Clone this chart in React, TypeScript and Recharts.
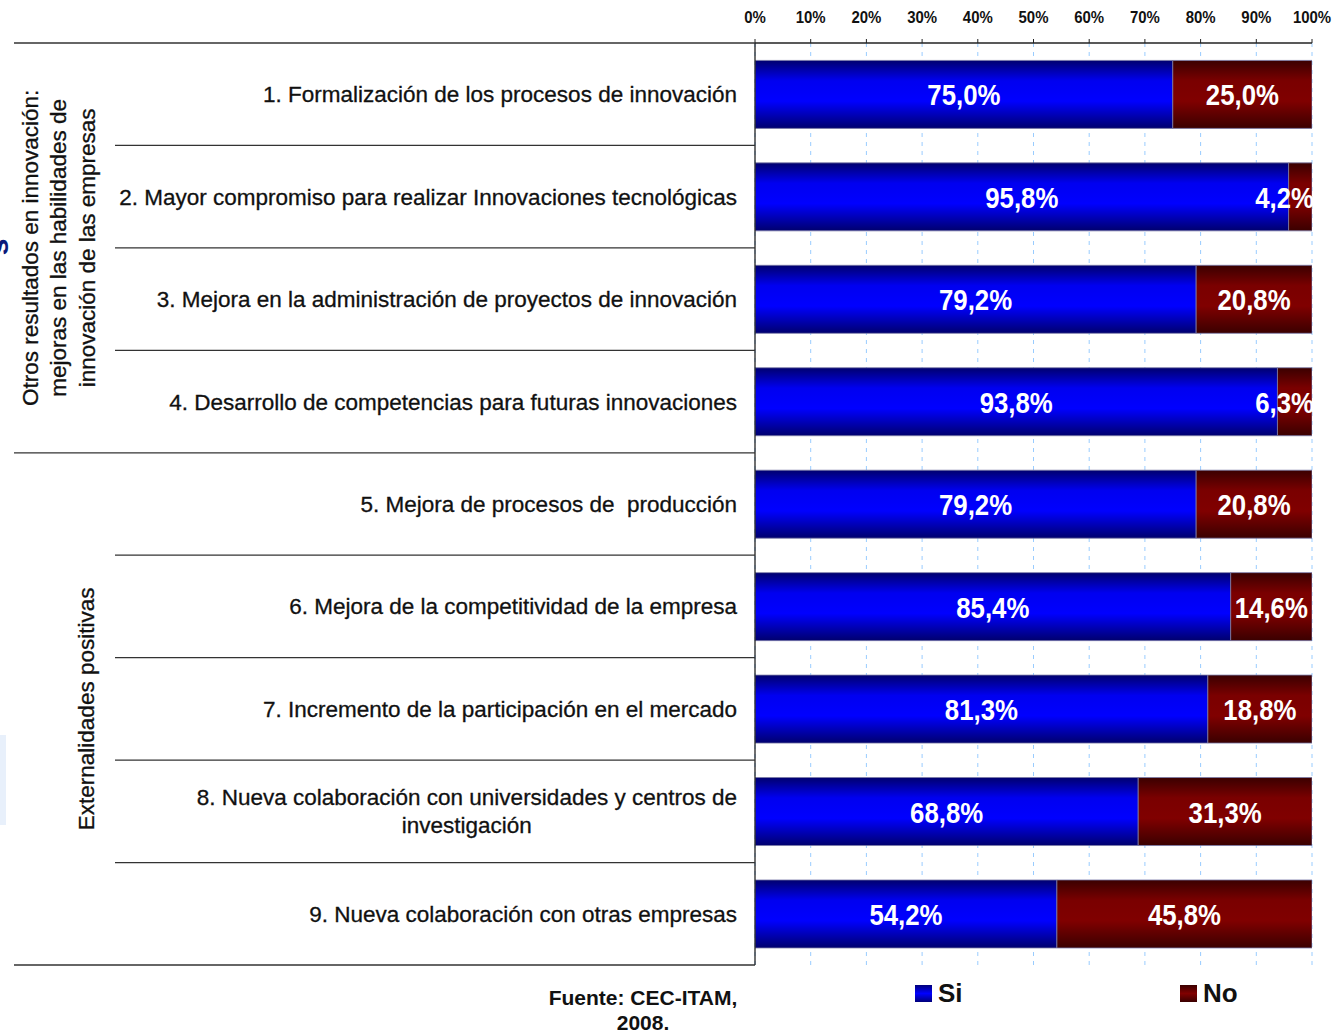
import React from 'react';
import { BarChart, Bar, XAxis, YAxis, CartesianGrid, LabelList } from 'recharts';

const categories: string[][] = [
  ['1. Formalización de los procesos de innovación'],
  ['2. Mayor compromiso para realizar Innovaciones tecnológicas'],
  ['3. Mejora en la administración de proyectos de innovación'],
  ['4. Desarrollo de competencias para futuras innovaciones'],
  ['5. Mejora de procesos de  producción'],
  ['6. Mejora de la competitividad de la empresa'],
  ['7. Incremento de la participación en el mercado'],
  ['8. Nueva colaboración con universidades y centros de', 'investigación'],
  ['9. Nueva colaboración con otras empresas'],
];
const siValues = [75.0, 95.8, 79.2, 93.8, 79.2, 85.4, 81.3, 68.8, 54.2];
const noValues = [25.0, 4.2, 20.8, 6.3, 20.8, 14.6, 18.8, 31.3, 45.8];
const xTicks = [0, 10, 20, 30, 40, 50, 60, 70, 80, 90, 100];
const groupOne = ['Otros resultados en innovación:', 'mejoras en las habilidades de', 'innovación de las empresas'];
const groupTwo = ['Externalidades positivas'];
const seriesNames = ['Si', 'No'];
const sourceLines = ['Fuente: CEC-ITAM,', '2008.'];

const chartData = categories.map((lines, i) => ({
  name: lines.join(' '),
  lines,
  si: siValues[i],
  no: noValues[i],
}));

const W = 1343;
const H = 1032;
const PLOT_TOP = 43;
const PLOT_BOTTOM = 965;
const PLOT_LEFT = 755;
const PLOT_RIGHT = 1312;
const BAND = (PLOT_BOTTOM - PLOT_TOP) / categories.length;

const SANS = "'Liberation Sans', Arial, sans-serif";
const CAT_SIZE = 22.5;
const LABEL_SIZE = 30;
const SQUEEZE = 0.86;

let ctx: CanvasRenderingContext2D | null = null;
const measure = (text: string, font: string) => {
  if (!ctx) ctx = document.createElement('canvas').getContext('2d');
  if (!ctx) return text.length * 10;
  ctx.font = font;
  return ctx.measureText(text).width;
};

const fmt = (v: number) => `${v.toFixed(1).replace('.', ',')}%`;

const XTick = (props: any) => {
  const { x, payload } = props;
  return (
    <g transform={`translate(${x}, 23) scale(0.88, 1)`}>
      <text x={0} y={0} textAnchor="middle" fontFamily={SANS} fontWeight="bold" fontSize={17} fill="#111">
        {`${payload.value}%`}
      </text>
    </g>
  );
};

const catText = (x: number, y: number, anchor: string, t: string) => (
  <text
    x={x}
    y={y}
    textAnchor={anchor}
    fontFamily={SANS}
    fontSize={CAT_SIZE}
    fill="#111"
    stroke="#111"
    strokeWidth={0.3}
    style={{ whiteSpace: 'pre' }}
  >
    {t}
  </text>
);

const YTick = (props: any) => {
  const { y, index } = props;
  const lines: string[] = chartData[index].lines;
  const right = 737;
  const top = y - BAND / 2;
  const bottom = y + BAND / 2;
  const fullLine = index === 3 || index === categories.length - 1;
  let textEls;
  if (lines.length === 1) {
    textEls = catText(right, y + 8, 'end', lines[0]);
  } else {
    const w = measure(lines[0], `${CAT_SIZE}px ${SANS}`);
    textEls = (
      <g>
        {catText(right, y - 6, 'end', lines[0])}
        {catText(right - w / 2, y + 22, 'middle', lines[1])}
      </g>
    );
  }
  return (
    <g>
      {index === 0 && <line x1={14} x2={PLOT_LEFT} y1={top} y2={top} stroke="#333" strokeWidth={1.3} />}
      <line x1={fullLine ? 14 : 115} x2={PLOT_LEFT} y1={bottom} y2={bottom} stroke="#333" strokeWidth={1.3} />
      {textEls}
      {index === 1 && (
        <g transform={`translate(58, ${bottom}) rotate(-90)`}>
          {groupOne.map((t, i) => (
            <g key={t}>{catText(0, 8 + (i - 1) * 28.5, 'middle', t)}</g>
          ))}
        </g>
      )}
      {index === 6 && (
        <g transform={`translate(86, ${y}) rotate(-90)`}>{catText(0, 8, 'middle', groupTwo[0])}</g>
      )}
    </g>
  );
};

const labelFont = `bold ${LABEL_SIZE}px ${SANS}`;
const BarLabel = (props: any) => {
  const { x, y, width, height, value } = props;
  const txt = fmt(Number(value));
  const w = measure(txt, labelFont) * SQUEEZE;
  let cx = x + width / 2;
  const maxRight = PLOT_RIGHT + 2;
  if (cx + w / 2 > maxRight) cx = maxRight - w / 2;
  return (
    <g clipPath="url(#plotClip)">
      <g transform={`translate(${cx}, ${y + height / 2 + 11}) scale(${SQUEEZE}, 1)`}>
        <text x={0} y={0} textAnchor="middle" fill="#fff" fontFamily={SANS} fontWeight="bold" fontSize={LABEL_SIZE}>
          {txt}
        </text>
      </g>
    </g>
  );
};

const legendFill = [
  'linear-gradient(#00007a, #0000ff 50%, #00007a)',
  'linear-gradient(#3a0000, #800000 50%, #3a0000)',
];
const legendLeft = [915, 1180];

export default function App() {
  return (
    <div style={{ position: 'absolute', left: 0, top: 0, width: W, height: H, overflow: 'hidden', background: '#fff' }}>
      <div style={{ position: 'absolute', left: 0, top: 735, width: 6, height: 90, background: '#e8f0fb' }} />
      <div style={{ position: 'absolute', left: -10, top: 232, fontFamily: SANS, fontWeight: 'bold', fontSize: 30, color: '#0a1a7a', transform: 'rotate(-90deg)', lineHeight: '30px' }}>s</div>
      <BarChart
        width={W}
        height={H}
        data={chartData}
        layout="vertical"
        margin={{ top: 0, right: W - PLOT_RIGHT, bottom: H - PLOT_BOTTOM, left: 0 }}
        barCategoryGap="17%"
      >
        <defs>
          <linearGradient id="gradSi" x1="0" y1="0" x2="0" y2="1">
            <stop offset="0%" stopColor="#00006e" />
            <stop offset="30%" stopColor="#0000f0" />
            <stop offset="60%" stopColor="#0000ff" />
            <stop offset="100%" stopColor="#00006e" />
          </linearGradient>
          <linearGradient id="gradNo" x1="0" y1="0" x2="0" y2="1">
            <stop offset="0%" stopColor="#3a0000" />
            <stop offset="30%" stopColor="#7a0000" />
            <stop offset="60%" stopColor="#800000" />
            <stop offset="100%" stopColor="#3a0000" />
          </linearGradient>
          <clipPath id="plotClip">
            <rect x={0} y={0} width={PLOT_RIGHT + 1} height={H} />
          </clipPath>
        </defs>
        <CartesianGrid vertical horizontal={false} stroke="#99ccff" strokeDasharray="4 5" />
        <XAxis
          type="number"
          orientation="top"
          domain={[0, 100]}
          ticks={xTicks}
          allowDataOverflow
          height={PLOT_TOP}
          tick={<XTick />}
          tickSize={4}
          axisLine={{ stroke: '#222', strokeWidth: 1.3 }}
          tickLine={{ stroke: '#222' }}
        />
        <YAxis
          type="category"
          dataKey="name"
          width={PLOT_LEFT}
          interval={0}
          tick={<YTick />}
          tickLine={false}
          axisLine={{ stroke: '#222', strokeWidth: 1.3 }}
        />
        <Bar dataKey="si" name="Si" stackId="a" fill="url(#gradSi)" stroke="#7a7aa8" strokeWidth={0.8} isAnimationActive={false}>
          <LabelList dataKey="si" content={<BarLabel />} />
        </Bar>
        <Bar dataKey="no" name="No" stackId="a" fill="url(#gradNo)" stroke="#7a7aa8" strokeWidth={0.8} isAnimationActive={false}>
          <LabelList dataKey="no" content={<BarLabel />} />
        </Bar>
      </BarChart>
      {seriesNames.map((n, i) => (
        <div
          key={n}
          style={{ position: 'absolute', left: legendLeft[i], top: 976, display: 'flex', alignItems: 'center', fontFamily: SANS, fontWeight: 'bold', fontSize: 26, color: '#111' }}
        >
          <div style={{ width: 17, height: 17, marginRight: 6, background: legendFill[i] }} />
          <span style={{ lineHeight: '34px' }}>{n}</span>
        </div>
      ))}
      <div style={{ position: 'absolute', left: 533, width: 220, top: 985, textAlign: 'center', fontFamily: SANS, fontWeight: 'bold', fontSize: 21, lineHeight: '25px', color: '#111' }}>
        {sourceLines[0]}
        <br />
        {sourceLines[1]}
      </div>
    </div>
  );
}
